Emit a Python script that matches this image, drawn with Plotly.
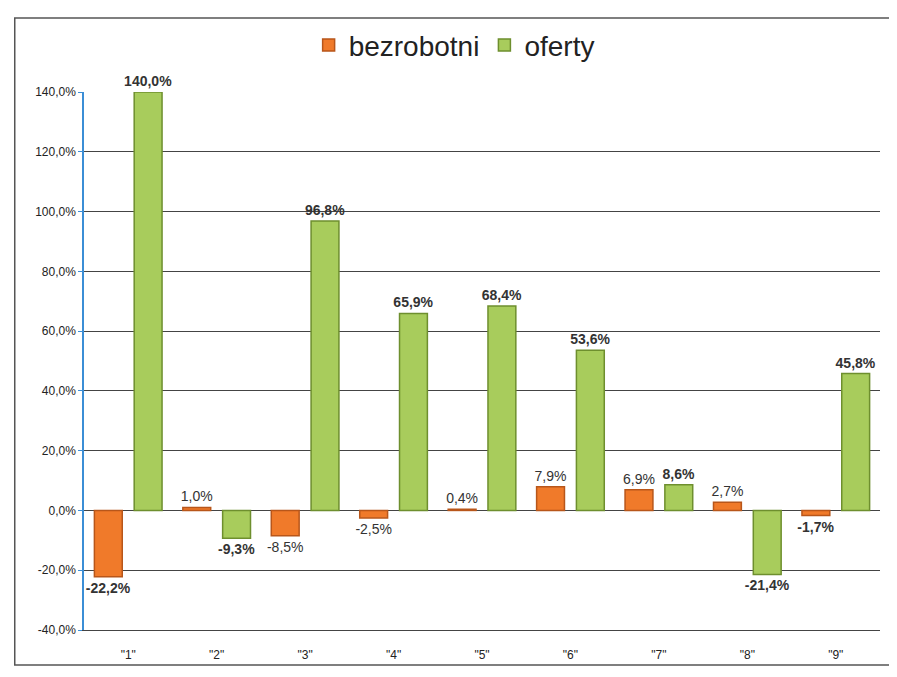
import plotly.graph_objects as go

categories = ['"1"', '"2"', '"3"', '"4"', '"5"', '"6"', '"7"', '"8"', '"9"']
bezrobotni = [-22.2, 1.0, -8.5, -2.5, 0.4, 7.9, 6.9, 2.7, -1.7]
oferty = [140.0, -9.3, 96.8, 65.9, 68.4, 53.6, 8.6, -21.4, 45.8]
tick_vals = [-40, -20, 0, 20, 40, 60, 80, 100, 120, 140]

def fmt(v, bold):
    s = f"{v:.1f}%".replace(".", ",")
    return f"<b>{s}</b>" if bold else s

fig = go.Figure()
fig.add_trace(go.Bar(
    x=categories, y=bezrobotni, name="bezrobotni",
    marker=dict(color="#F07A2A", line=dict(color="#B8561A", width=1.5)),
    text=[fmt(v, v in (-22.2, -1.7)) for v in bezrobotni],
    textposition="outside", cliponaxis=False,
    textfont=dict(family="Arial", size=14, color="#333333"),
))
fig.add_trace(go.Bar(
    x=categories, y=oferty, name="oferty",
    marker=dict(color="#A8CC5C", line=dict(color="#6E8F2E", width=1.5)),
    text=[fmt(v, True) for v in oferty],
    textposition="outside", cliponaxis=False,
    textfont=dict(family="Arial", size=14, color="#333333"),
))

fig.update_layout(
    width=897, height=677,
    paper_bgcolor="white", plot_bgcolor="white",
    barmode="group", bargap=0.1, bargroupgap=0.3,
    separators=",.",
    uniformtext=dict(minsize=14, mode="show"),
    margin=dict(l=76, r=25, t=84, b=55, autoexpand=False),
    font=dict(family="Arial", color="#333333"),
    legend=dict(orientation="h", x=0.465, xanchor="center", y=1.087, yanchor="middle",
                bgcolor="rgba(0,0,0,0)",
                font=dict(family="Arial", size=28, color="#222222")),
    yaxis=dict(range=[-40, 140], tickvals=tick_vals,
               ticktext=[f"{v:.1f}%".replace(".", ",") for v in tick_vals],
               showgrid=True, gridcolor="#444444", gridwidth=1,
               zeroline=True, zerolinecolor="#444444", zerolinewidth=1,
               showline=True, linecolor="#3B8ED6", linewidth=1.5,
               tickfont=dict(size=12, color="#222222", family="Arial"),
               ticks="outside", tickcolor="#3B8ED6", ticklen=4),
    xaxis=dict(showline=True, linecolor="#444444", linewidth=1,
               ticklabelstandoff=14,
               tickfont=dict(size=12, color="#222222", family="Arial")),
    shapes=[dict(type="rect", xref="paper", yref="paper",
                 x0=-0.087, x1=1.0126, y0=-0.065, y1=1.1375,
                 line=dict(color="#555555", width=1.5))],
)

fig.write_html("out.html")
